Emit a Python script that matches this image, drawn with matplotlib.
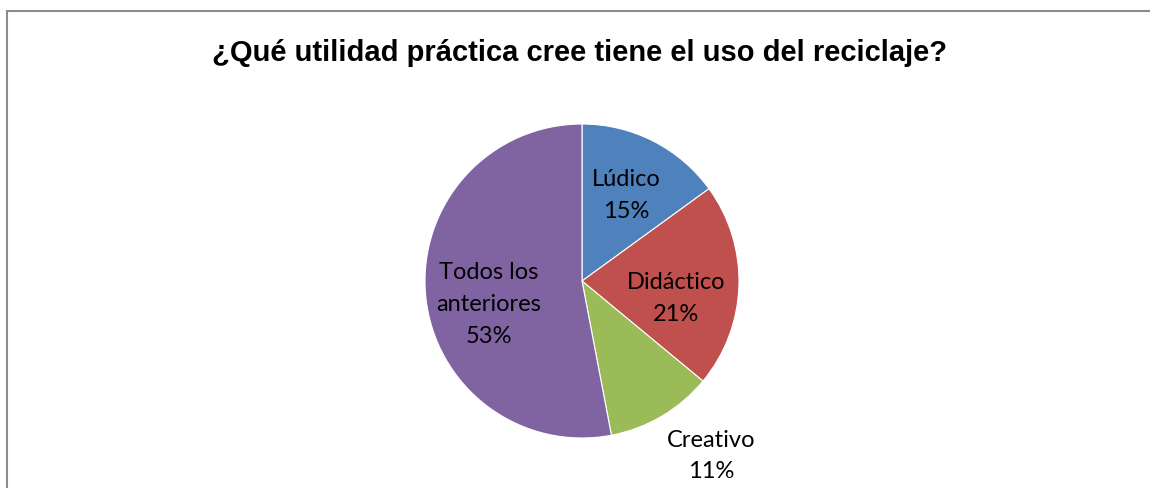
import numpy as np
import matplotlib
matplotlib.use('Agg')
import matplotlib.pyplot as plt
from matplotlib.patches import Rectangle

# datos de la encuesta
categorias = ['Lúdico', 'Didáctico', 'Creativo', 'Todos los\nanteriores']
porcentajes = [15, 21, 11, 53]
colores = ['#4F81BD', '#C0504D', '#9BBB59', '#8064A2']
# distancia de cada etiqueta al centro (fraccion del radio) y desvio angular
dist_etiqueta = [0.62, 0.61, 1.38, 0.61]
desvio_angulo = [0, -8, 6, 8.2]

W, H = 1150, 489
fig = plt.figure(figsize=(W / 100, H / 100), dpi=100)

# marco gris del grafico
fig.patches.append(Rectangle((6.5 / W, -0.1), 1.2, (H - 11.5) / H + 0.1,
                             transform=fig.transFigure, fill=False,
                             edgecolor='#8c8c8c', linewidth=1.5))

fig.text(580 / W, 1 - 53 / H, '¿Qué utilidad práctica cree tiene el uso del reciclaje?',
         ha='center', va='center', fontsize=21, fontweight='bold',
         family='Liberation Sans')

cx, cy, r = 582, 282, 157
ax = fig.add_axes([(cx - r) / W, (H - cy - r) / H, 2 * r / W, 2 * r / H])
wedges, _ = ax.pie(porcentajes, colors=colores, startangle=90, counterclock=False,
                   wedgeprops=dict(edgecolor='white', linewidth=0.8))
ax.set_xlim(-1, 1)
ax.set_ylim(-1, 1)
ax.set_aspect('equal')

for w, cat, p, d, da in zip(wedges, categorias, porcentajes, dist_etiqueta, desvio_angulo):
    ang = np.deg2rad((w.theta1 + w.theta2) / 2 + da)
    ax.text(d * np.cos(ang), d * np.sin(ang), f'{cat}\n{p}%', ha='center', va='center',
            multialignment='center', fontsize=17, family='Lato', linespacing=1.62,
            clip_on=False)

fig.savefig('out.png', dpi=100)
